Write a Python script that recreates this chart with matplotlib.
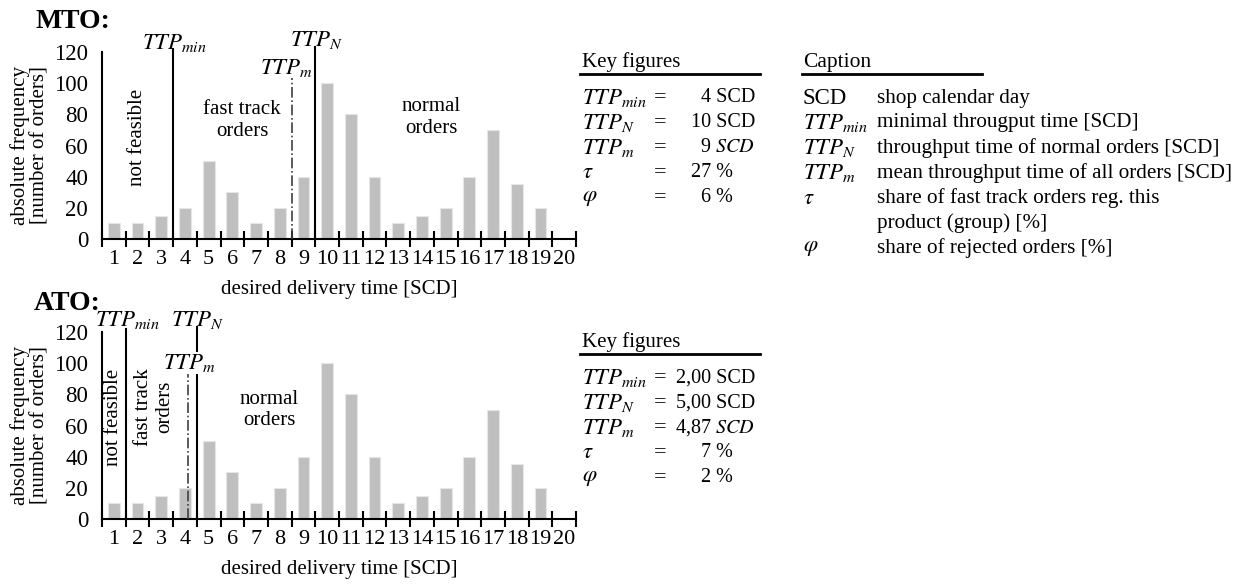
"""
Order distribution over desired delivery time for MTO and ATO, with key figures and caption.
"""

import numpy as np
import matplotlib.pyplot as plt
from matplotlib.lines import Line2D

plt.rcParams['font.family'] = ['Liberation Serif', 'DejaVu Serif']
plt.rcParams['mathtext.fontset'] = 'stix'

W, H = 1250, 584

# data
days = np.arange(1, 21)
mto_orders = [10, 10, 15, 20, 50, 30, 10, 20, 40, 100, 80, 40, 10, 15, 20, 40, 70, 35, 20, 0]
ato_orders = [10, 10, 15, 20, 50, 30, 10, 20, 40, 100, 80, 40, 10, 15, 20, 40, 70, 35, 20, 0]

# vertical markers (position on the day axis)
mto_ttp_min, mto_ttp_n, mto_ttp_m = 3.5, 9.5, 8.5
ato_ttp_min, ato_ttp_n, ato_ttp_m = 1.5, 4.5, 4.13

mto_key_values = ['4 SCD', '10 SCD', r'9 $SCD$', '27 %', '6 %']
ato_key_values = ['2,00 SCD', '5,00 SCD', r'4,87 $SCD$', '7 %', '2 %']
key_symbols = [r'$TTP_{min}$', r'$TTP_N$', r'$TTP_m$', r'$\tau$', r'$\varphi$']

caption_symbols = ['SCD', r'$TTP_{min}$', r'$TTP_N$', r'$TTP_m$', r'$\tau$', '', r'$\varphi$']
caption_texts = ['shop calendar day', 'minimal througput time [SCD]',
                 'throughput time of normal orders [SCD]', 'mean throughput time of all orders [SCD]',
                 'share of fast track orders reg. this', 'product (group) [%]',
                 'share of rejected orders [%]']


def px(x, y):
    return x / W, 1 - y / H


def draw_chart(ax, orders, ttp_min, ttp_n, ttp_m, m_top):
    ax.bar(days, orders, width=0.5, color='#bfbfbf', edgecolor='#e6e6e6', linewidth=0.8, zorder=2)
    ax.set_xlim(0.5, 20.5)
    ax.set_ylim(0, 120)
    ax.spines['top'].set_visible(False)
    ax.spines['right'].set_visible(False)
    ax.spines['left'].set_linewidth(1.5)
    ax.spines['bottom'].set_linewidth(1.5)

    ax.set_xticks(np.arange(0.5, 21, 1))
    ax.set_xticklabels([])
    ax.set_xticks(days, minor=True)
    ax.set_xticklabels([str(d) for d in days], minor=True, fontsize=16)
    ax.tick_params(axis='x', which='major', direction='inout', length=11, width=1.5)
    ax.tick_params(axis='x', which='minor', length=0, pad=8)
    ax.set_yticks(np.arange(0, 121, 20))
    ax.tick_params(axis='y', length=0, pad=10, labelsize=16.5)

    ax.set_xlabel('desired delivery time [SCD]', fontsize=15, labelpad=8)
    ax.set_ylabel('absolute frequency\n[number of orders]', fontsize=15, labelpad=3, linespacing=1.05)

    ax.plot([ttp_min, ttp_min], [0, 122], color='black', lw=1.5, clip_on=False, zorder=3)
    ax.plot([ttp_n, ttp_n], [0, 123], color='black', lw=1.5, clip_on=False, zorder=3)
    ax.plot([ttp_m, ttp_m], [0, m_top], color='#404040', lw=1.2, ls='-.', clip_on=False, zorder=3)


fig = plt.figure(figsize=(W / 100, H / 100), dpi=100)
ax1 = fig.add_axes([102 / W, 1 - 239 / H, 474 / W, 187 / H])
ax2 = fig.add_axes([102 / W, 1 - 519 / H, 474 / W, 187 / H])

# MTO
draw_chart(ax1, mto_orders, mto_ttp_min, mto_ttp_n, mto_ttp_m, 103)
ax1.text(3.54, 126, r'$TTP_{min}$', fontsize=16.5, ha='center', va='center')
ax1.text(9.55, 128, r'$TTP_N$', fontsize=16.5, ha='center', va='center')
ax1.text(8.28, 110, r'$TTP_m$', fontsize=16.5, ha='center', va='center')
ax1.text(2.0, 65, 'not feasible', fontsize=15, rotation=90, ha='center', va='center')
ax1.text(6.42, 76, 'fast track\norders', fontsize=15, ha='center', va='center', linespacing=1.2)
ax1.text(14.4, 78, 'normal\norders', fontsize=15, ha='center', va='center', linespacing=1.2)

# ATO
draw_chart(ax2, ato_orders, ato_ttp_min, ato_ttp_n, ato_ttp_m, 94)
ax2.text(1.56, 128, r'$TTP_{min}$', fontsize=16.5, ha='center', va='center')
ax2.text(4.52, 128, r'$TTP_N$', fontsize=16.5, ha='center', va='center')
ax2.text(4.18, 100, r'$TTP_m$', fontsize=16.5, ha='center', va='center', zorder=5,
         bbox=dict(facecolor='white', edgecolor='none', pad=0))
ax2.text(1.0, 65, 'not feasible', fontsize=15, rotation=90, ha='center', va='center')
ax2.text(2.7, 72, 'fast track\norders', fontsize=15, rotation=90, ha='center', va='center', linespacing=1.2)
ax2.text(7.56, 70, 'normal\norders', fontsize=15, ha='center', va='center', linespacing=1.2)

fig.text(*px(35, 22), 'MTO:', fontsize=20, fontweight='bold', ha='left', va='center')
fig.text(*px(34, 303), 'ATO:', fontsize=20, fontweight='bold', ha='left', va='center')


def key_table(top, values):
    fig.text(*px(582, top), 'Key figures', fontsize=15, ha='left', va='center')
    fig.add_artist(Line2D([580 / W, 760 / W], [1 - (top + 12) / H] * 2, color='black', lw=2))
    for i, (sym, val) in enumerate(zip(key_symbols, values)):
        y = top + 36 + i * 24.8
        fig.text(*px(582, y), sym, fontsize=16.5, ha='left', va='center')
        fig.text(*px(660, y), '=', fontsize=16, ha='center', va='center')
        right = 733 if '%' in val else 755
        fig.text(*px(right, y), val, fontsize=14.5, ha='right', va='center')


key_table(62, mto_key_values)
key_table(342, ato_key_values)

# caption
fig.text(*px(803, 62), 'Caption', fontsize=15.5, ha='left', va='center')
fig.add_artist(Line2D([802 / W, 982 / W], [1 - 74 / H] * 2, color='black', lw=2))
for i, (sym, txt) in enumerate(zip(caption_symbols, caption_texts)):
    y = 98 + i * 25
    if sym:
        fig.text(*px(803, y), sym, fontsize=16.5, ha='left', va='center')
    fig.text(*px(877, y), txt, fontsize=15.2, ha='left', va='center')

plt.savefig('out.png', dpi=100)
